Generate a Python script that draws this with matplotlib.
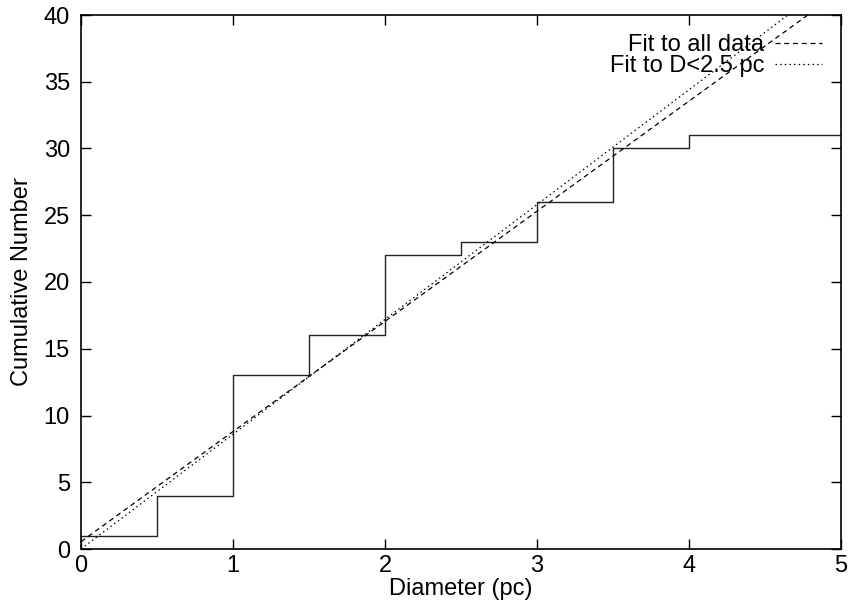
import numpy as np
import matplotlib
matplotlib.use("Agg")
import matplotlib.pyplot as plt

plt.rcParams["font.family"] = ["Liberation Sans", "DejaVu Sans"]

# cumulative counts (step edges and values)
edges = [0.0, 0.5, 1.0, 1.5, 2.0, 2.5, 3.0, 3.5, 4.0, 5.0]
counts = [1, 4, 13, 16, 22, 23, 26, 30, 31, 31]

# linear fits: N = a + b*D
fit_all = (0.55, 8.25)
fit_small = (0.0, 8.6)

fig = plt.figure(figsize=(8.51, 6.05), dpi=100)
ax = fig.add_axes([81/851, 1-549/605, (841-81)/851, (549-15)/605])

ax.step(edges, counts, where="post", color="#222222", lw=1.0)

xx = np.array([0.0, 5.0])
ax.plot(xx, fit_all[0] + fit_all[1]*xx, color="black", lw=0.9,
        dashes=(4, 3), label="Fit to all data")
ax.plot(xx, fit_small[0] + fit_small[1]*xx, color="black", lw=0.9,
        dashes=(1.2, 2.5), label="Fit to D<2.5 pc")

ax.set_xlim(0, 5)
ax.set_ylim(0, 40)
ax.set_xticks(range(0, 6))
ax.set_yticks(range(0, 45, 5))
ax.tick_params(direction="in", length=7, width=1, top=True, right=True,
               labelsize=17)
ax.tick_params(axis="x", pad=4)
ax.tick_params(axis="y", pad=8)
for s in ax.spines.values():
    s.set_linewidth(1.2)

ax.set_xlabel("Diameter (pc)", fontsize=17, labelpad=1)
ax.set_ylabel("Cumulative Number", fontsize=17, labelpad=8)

leg = ax.legend(loc="upper right", frameon=False, fontsize=17,
                markerfirst=False, handlelength=2.0, handletextpad=0.45,
                labelspacing=-0.02, borderpad=0.0, borderaxespad=0.8)
for t in leg.get_texts():
    t.set_ha("right")

fig.savefig("out.png", dpi=100)
